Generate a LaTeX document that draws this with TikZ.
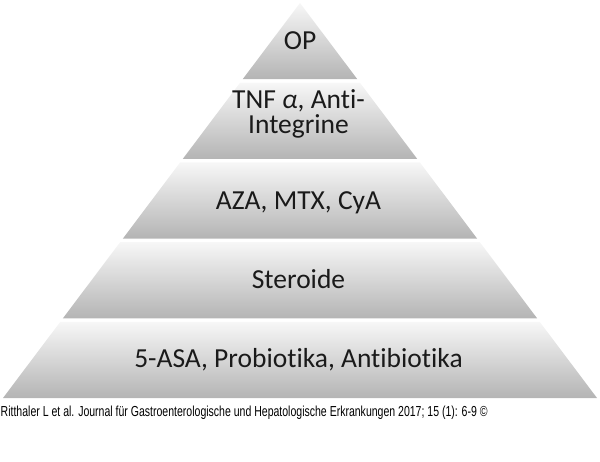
\documentclass[tikz,border=0pt]{standalone}
\usepackage{fontspec}
\usepackage{graphicx}
\setmainfont{Carlito}[Ligatures={NoCommon}]
\newfontfamily\capfont{Liberation Sans}
\definecolor{layertop}{HTML}{F7F7F7}
\definecolor{layerbot}{HTML}{B4B4B4}
\definecolor{txt}{HTML}{1A1A1A}
\tikzset{
  layer/.style={top color=layertop, bottom color=layerbot, draw=none},
  lbl/.style={anchor=base, inner sep=0pt, text=txt, font=\fontsize{27.5}{25}\selectfont},
  caption/.style={anchor=base west, inner sep=0pt, text=black, font=\capfont}
}
\begin{document}
\begin{tikzpicture}[x=1pt,y=-1pt]
\useasboundingbox (0,0) rectangle (600,462);
% layers
\path[layer] (300,3) -- (357.3,79.2) -- (242.7,79.2) -- cycle;
\path[layer] (240.1,82.7) -- (359.9,82.7) -- (417.2,158.9) -- (182.8,158.9) -- cycle;
\path[layer] (180.1,162.4) -- (419.9,162.4) -- (477.1,238.6) -- (122.9,238.6) -- cycle;
\path[layer] (120.2,242.1) -- (479.8,242.1) -- (537.1,318.3) -- (62.9,318.3) -- cycle;
\path[layer] (60.3,321.8) -- (539.7,321.8) -- (597,398) -- (3,398) -- cycle;
% labels
\node[lbl] (op) at (300,50) {OP};
\node[lbl] (tnf) at (298.5,109) {TNF {\itshape α}, Anti-};
\node[lbl] (integ) at (298.5,134) {Integrine};
\node[lbl] (aza) at (298.5,209.5) {AZA, MTX, CyA};
\node[lbl] (ster) at (298.5,289) {Steroide};
\node[lbl] (asa) at (298.5,368) {5-ASA, Probiotika, Antibiotika};
% caption
\node[caption] (cap) at (0.5,416.5) {\resizebox{487pt}{10.5pt}{Ritthaler L et al. Journal für Gastroenterologische und Hepatologische Erkrankungen 2017; 15 (1): 6-9 ©}};
\end{tikzpicture}
\end{document}
